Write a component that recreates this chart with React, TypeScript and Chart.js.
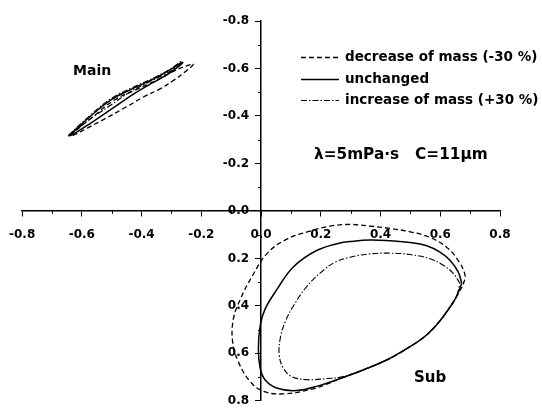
import React, { useEffect, useRef } from "react";
import { Chart, registerables } from "chart.js";

Chart.register(...registerables);

// ---- axis values ----
const AXIS_MIN = -0.8;
const AXIS_MAX = 0.8;
const MAJOR_STEP = 0.2;
const MINOR_TICKS = [-0.7, -0.5, -0.3, -0.1, 0.1, 0.3, 0.5, 0.7];

// ---- series names ----
const SERIES_LABELS = ["decrease of mass (-30 %)", "unchanged", "increase of mass (+30 %)"];

// ---- Main loops ----
const MAIN_DEC_X = [-0.64, -0.56, -0.49, -0.42, -0.35, -0.29, -0.24, -0.226, -0.254, -0.294, -0.338, -0.394, -0.45, -0.52, -0.58, -0.63, -0.64];
const MAIN_DEC_Y = [-0.318, -0.4, -0.468, -0.51, -0.55, -0.59, -0.615, -0.618, -0.586, -0.549, -0.514, -0.48, -0.439, -0.39, -0.35, -0.318, -0.318];

const MAIN_UNC_X = [-0.645, -0.57, -0.5, -0.43, -0.36, -0.305, -0.27, -0.262, -0.28, -0.32, -0.37, -0.43, -0.5, -0.57, -0.63, -0.645];
const MAIN_UNC_Y = [-0.315, -0.4, -0.47, -0.515, -0.556, -0.594, -0.622, -0.625, -0.605, -0.57, -0.535, -0.49, -0.43, -0.37, -0.322, -0.315];

const MAIN_INC_X = [-0.645, -0.57, -0.5, -0.43, -0.36, -0.3, -0.27, -0.265, -0.29, -0.33, -0.38, -0.44, -0.51, -0.58, -0.635, -0.645];
const MAIN_INC_Y = [-0.318, -0.405, -0.475, -0.52, -0.56, -0.6, -0.628, -0.628, -0.6, -0.57, -0.54, -0.5, -0.44, -0.38, -0.325, -0.318];

// ---- Sub loops ----
const SUB_DEC_X = [0.677, 0.683, 0.66, 0.622, 0.566, 0.499, 0.432, 0.365, 0.298, 0.231, 0.164, 0.086, 0.019, -0.031, -0.07, -0.093, -0.095, -0.076, -0.037, 0.008, 0.075, 0.164, 0.22, 0.268, 0.346, 0.424, 0.491, 0.547, 0.591, 0.625, 0.653, 0.677];
const SUB_DEC_Y = [0.31, 0.271, 0.209, 0.154, 0.112, 0.088, 0.074, 0.064, 0.057, 0.064, 0.085, 0.119, 0.181, 0.278, 0.374, 0.457, 0.553, 0.636, 0.718, 0.76, 0.771, 0.753, 0.73, 0.705, 0.668, 0.626, 0.578, 0.53, 0.475, 0.419, 0.364, 0.31];

const SUB_UNC_X = [0.672, 0.66, 0.633, 0.599, 0.555, 0.499, 0.432, 0.365, 0.298, 0.264, 0.186, 0.108, 0.052, 0.013, -0.003, -0.009, -0.003, 0.013, 0.052, 0.119, 0.197, 0.268, 0.346, 0.424, 0.491, 0.547, 0.591, 0.625, 0.653, 0.672];
const SUB_UNC_Y = [0.305, 0.257, 0.209, 0.174, 0.147, 0.133, 0.126, 0.123, 0.129, 0.135, 0.167, 0.236, 0.333, 0.415, 0.484, 0.581, 0.663, 0.711, 0.746, 0.757, 0.735, 0.705, 0.668, 0.626, 0.578, 0.53, 0.475, 0.419, 0.364, 0.305];

const SUB_INC_X = [0.666, 0.644, 0.61, 0.566, 0.499, 0.432, 0.365, 0.298, 0.25, 0.209, 0.153, 0.108, 0.08, 0.064, 0.061, 0.075, 0.103, 0.153, 0.22, 0.268, 0.346, 0.424, 0.491, 0.547, 0.591, 0.625, 0.653, 0.666];
const SUB_INC_Y = [0.305, 0.264, 0.229, 0.202, 0.184, 0.178, 0.181, 0.195, 0.215, 0.25, 0.319, 0.401, 0.47, 0.539, 0.608, 0.663, 0.698, 0.711, 0.706, 0.7, 0.668, 0.626, 0.578, 0.53, 0.475, 0.419, 0.364, 0.305];

// ---- annotation texts ----
const MAIN_LABEL = "Main";
const SUB_LABEL = "Sub";
const PARAM_LABEL = "λ=5mPa·s   C=11μm";

const FONT_FAMILY = "'DejaVu Sans', sans-serif";
const LINE_DASHES = [[5, 3], [], [6, 2, 1.5, 2]];
const LINE_WIDTHS = [1.3, 1.5, 1.1];
const Y_LABEL_SHIFT = 12;
const X_LABEL_SHIFT = 3;

function zip(xs: number[], ys: number[]) {
  return xs.map((x, i) => ({ x, y: ys[i] }));
}

const annotationPlugin = {
  id: "annotations",
  beforeDraw(chart: any) {
    // move the y tick labels off the axis line (to the left of the tick marks)
    const ys = chart.scales.y;
    ys.getLabelItems(chart.chartArea).forEach((it: any) => {
      if (!it._shifted) {
        it.options.translation[0] -= Y_LABEL_SHIFT;
        it._shifted = true;
      }
    });
    const xs = chart.scales.x;
    xs.getLabelItems(chart.chartArea).forEach((it: any) => {
      if (!it._shifted) {
        it.options.translation[1] += X_LABEL_SHIFT;
        it._shifted = true;
      }
    });
  },
  afterDraw(chart: any) {
    const ctx = chart.ctx;
    const xs = chart.scales.x;
    const ys = chart.scales.y;
    ctx.save();
    // minor ticks
    ctx.strokeStyle = "#000";
    ctx.lineWidth = 1;
    const y0 = ys.getPixelForValue(0);
    const x0 = xs.getPixelForValue(0);
    MINOR_TICKS.forEach((v) => {
      const px = Math.round(xs.getPixelForValue(v)) + 0.5;
      ctx.beginPath();
      ctx.moveTo(px, y0);
      ctx.lineTo(px, y0 + 3);
      ctx.stroke();
      const py = Math.round(ys.getPixelForValue(v)) + 0.5;
      ctx.beginPath();
      ctx.moveTo(x0, py);
      ctx.lineTo(x0 - 3, py);
      ctx.stroke();
    });

    // legend
    const legendX = 301;
    const legendLen = 38;
    const rowY = [57, 79, 100];
    ctx.font = `bold 13.5px ${FONT_FAMILY}`;
    ctx.fillStyle = "#000";
    ctx.textBaseline = "middle";
    ctx.textAlign = "left";
    SERIES_LABELS.forEach((label, i) => {
      ctx.beginPath();
      ctx.setLineDash(LINE_DASHES[i]);
      ctx.lineWidth = LINE_WIDTHS[i];
      ctx.moveTo(legendX, rowY[i] + 0.5);
      ctx.lineTo(legendX + legendLen, rowY[i] + 0.5);
      ctx.stroke();
      ctx.setLineDash([]);
      ctx.fillText(label, legendX + legendLen + 6, rowY[i]);
    });

    ctx.font = `bold 14px ${FONT_FAMILY}`;
    ctx.fillText(MAIN_LABEL, 73, 71);
    ctx.font = `bold 15px ${FONT_FAMILY}`;
    ctx.fillText(SUB_LABEL, 414, 378);
    ctx.font = `bold 15.3px ${FONT_FAMILY}`;
    ctx.fillText(PARAM_LABEL, 314, 155);
    ctx.restore();
  },
};

export default function App() {
  const canvasRef = useRef<HTMLCanvasElement | null>(null);

  useEffect(() => {
    if (!canvasRef.current) return;
    const groups = [
      [zip(MAIN_DEC_X, MAIN_DEC_Y), zip(SUB_DEC_X, SUB_DEC_Y)],
      [zip(MAIN_UNC_X, MAIN_UNC_Y), zip(SUB_UNC_X, SUB_UNC_Y)],
      [zip(MAIN_INC_X, MAIN_INC_Y), zip(SUB_INC_X, SUB_INC_Y)],
    ];
    const datasets: any[] = [];
    groups.forEach((g, i) => {
      g.forEach((pts, j) => {
        datasets.push({
          label: SERIES_LABELS[i] + (j === 0 ? " main" : " sub"),
          data: pts,
          showLine: true,
          borderColor: "#000",
          backgroundColor: "#000",
          borderWidth: LINE_WIDTHS[i],
          borderDash: LINE_DASHES[i],
          pointRadius: 0,
          tension: 0.4,
          fill: false,
        });
      });
    });

    const tickFont = { family: FONT_FAMILY, size: 12, weight: "bold" as const };
    const chart = new Chart(canvasRef.current, {
      type: "scatter",
      data: { datasets },
      options: {
        animation: false,
        responsive: false,
        layout: { padding: { left: 22, right: 42, top: 21, bottom: 4 } },
        plugins: { legend: { display: false }, tooltip: { enabled: false } },
        scales: {
          x: {
            type: "linear",
            position: { y: 0 } as any,
            min: AXIS_MIN,
            max: AXIS_MAX,
            grid: { drawOnChartArea: false, tickLength: 5, color: "#000", lineWidth: 1 },
            border: { color: "#000", width: 1.5 },
            ticks: {
              stepSize: MAJOR_STEP,
              color: "#000",
              font: tickFont,
              padding: 9,
              maxRotation: 0,
              callback: (v: any) => Number(v).toFixed(1),
            },
          },
          y: {
            type: "linear",
            position: { x: 0 } as any,
            reverse: true,
            min: AXIS_MIN,
            max: AXIS_MAX,
            grid: { drawOnChartArea: false, tickLength: 5, color: "#000", lineWidth: 1 },
            border: { color: "#000", width: 1.5 },
            ticks: {
              stepSize: MAJOR_STEP,
              color: "#000",
              font: tickFont,
              padding: 4,
              callback: (v: any) => Number(v).toFixed(1),
            },
          },
        },
      },
      plugins: [annotationPlugin],
    });
    return () => chart.destroy();
  }, []);

  return (
    <div style={{ position: "absolute", left: 0, top: 0, width: 542, height: 412, background: "#fff" }}>
      <canvas ref={canvasRef} width={542} height={412} />
    </div>
  );
}
